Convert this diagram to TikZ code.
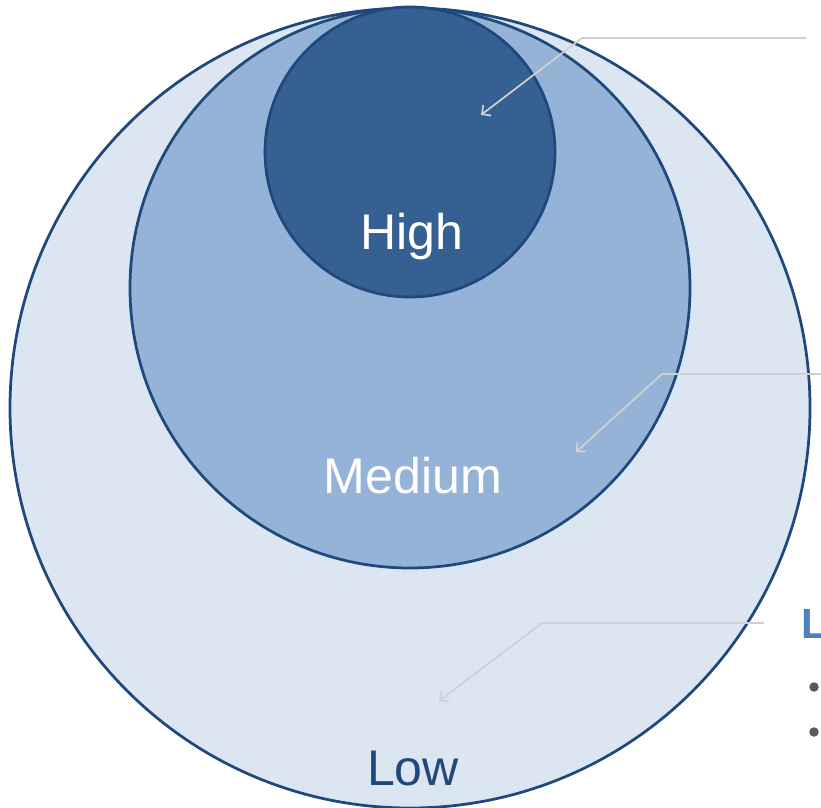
\documentclass[tikz,border=0pt]{standalone}
\usepackage{fontspec}
\setmainfont{Liberation Sans}
\usetikzlibrary{arrows.meta}

\definecolor{lowfill}{HTML}{DCE6F2}
\definecolor{medfill}{HTML}{95B3D7}
\definecolor{highfill}{HTML}{366092}
\definecolor{ringline}{HTML}{1F497D}
\definecolor{headblue}{HTML}{4F81BD}
\definecolor{bulletgray}{HTML}{595959}
\definecolor{leadergray}{HTML}{D0D0D0}

\begin{document}
\begin{tikzpicture}[x=0.2mm,y=-0.2mm,
    ring/.style={draw=ringline,line width=0.55mm,circle,inner sep=0pt},
    word/.style={anchor=base,font=\fontsize{28.5}{34}\selectfont},
    leader/.style={draw=leadergray,line width=0.35mm,-{Straight Barb[length=1.3mm,width=2.6mm]}}]
    \useasboundingbox (0,0) rectangle (821,808);

    \node [ring,fill=lowfill,minimum size=160mm](low)at(410,408){};
    \node [ring,fill=medfill,minimum size=112mm](medium)at(410,288){};
    \node [ring,fill=highfill,minimum size=58mm](high)at(410,152){};

    \node [word,text=white](hightext)at(412,249){High};
    \node [word,text=white](medtext)at(413,493){Medium};
    \node [word,text=ringline](lowtext)at(413,785){Low};

    \node [anchor=base west,text=headblue,font=\bfseries\fontsize{24}{28}\selectfont](head)at(795,638){L};
    \node [circle,fill=bulletgray,inner sep=0pt,minimum size=1.9mm](bulletA)at(814,687){};
    \node [circle,fill=bulletgray,inner sep=0pt,minimum size=1.9mm](bulletB)at(814,732){};

    \coordinate (hstart)at(806,38);
    \coordinate (hbend)at(582,38);
    \coordinate (htip)at(481,115);
    \coordinate (mstart)at(821,374);
    \coordinate (mbend)at(662,374);
    \coordinate (mtip)at(576,452);
    \coordinate (lstart)at(764,623);
    \coordinate (lbend)at(542,623);
    \coordinate (ltip)at(439,701);

    \draw [leader](hstart)--(hbend)--(htip);
    \draw [leader](mstart)--(mbend)--(mtip);
    \draw [leader](lstart)--(lbend)--(ltip);
\end{tikzpicture}
\end{document}
